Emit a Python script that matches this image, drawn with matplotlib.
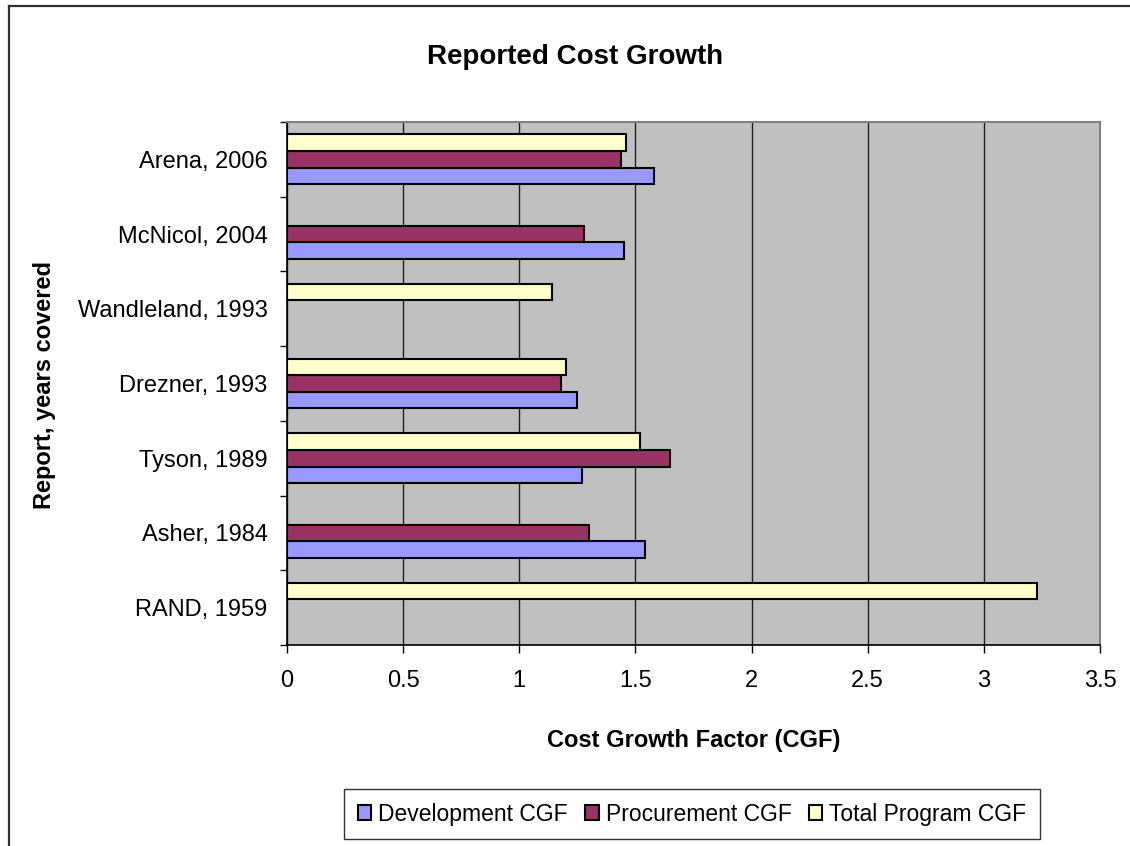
import numpy as np
import matplotlib.pyplot as plt
from matplotlib.lines import Line2D

plt.rcParams['font.family'] = ['Liberation Sans', 'DejaVu Sans']

# --- data (Cost Growth Factor)
reports = ['RAND, 1959', 'Asher, 1984', 'Tyson, 1989', 'Drezner, 1993',
           'Wandleland, 1993', 'McNicol, 2004', 'Arena, 2006']
dev_cgf = [np.nan, 1.54, 1.27, 1.25, np.nan, 1.45, 1.58]
proc_cgf = [np.nan, 1.30, 1.65, 1.18, np.nan, 1.28, 1.44]
total_cgf = [3.23, np.nan, 1.52, 1.20, 1.14, np.nan, 1.46]

series = [('Development CGF', dev_cgf, '#9999FF'),
          ('Procurement CGF', proc_cgf, '#993366'),
          ('Total Program CGF', total_cgf, '#FFFFCC')]

W, H = 1130, 846
fig = plt.figure(figsize=(W / 100, H / 100), dpi=100)
fig.patch.set_facecolor('white')

# plot area in pixels: x 287..1100, y 122..645
ax = fig.add_axes([287 / W, 1 - 645 / H, (1100 - 287) / W, (645 - 122) / H])
ax.set_facecolor('#C0C0C0')
ax.set_axisbelow(True)

pos = np.arange(len(reports))
bh = 0.222
handles = []
for k, (name, vals, col) in enumerate(series):
    vals = np.array(vals, dtype=float)
    ok = ~np.isnan(vals)
    b = ax.barh(pos[ok] + (k - 1) * bh, vals[ok], height=bh, color=col,
                edgecolor='black', linewidth=1.5, label=name)
    handles.append(b)

ax.set_xlim(0, 3.5)
ax.set_ylim(-0.5, len(reports) - 0.5)
ax.set_xticks(np.arange(0, 3.51, 0.5))
ax.set_xticklabels(['0', '0.5', '1', '1.5', '2', '2.5', '3', '3.5'])
ax.xaxis.grid(True, color='#202020', linewidth=1.0)

ax.set_yticks(pos)
ax.set_yticklabels(reports)
ax.set_yticks(np.arange(-0.5, len(reports), 1.0), minor=True)
ax.tick_params(axis='y', which='major', length=0, pad=14, labelsize=17)
ax.tick_params(axis='y', which='minor', length=5, width=1, direction='out')
ax.tick_params(axis='x', length=6, width=1, direction='out', pad=12, labelsize=17)

for s in ['left', 'bottom']:
    ax.spines[s].set_color('black')
    ax.spines[s].set_linewidth(1.2)
for s in ['top', 'right']:
    ax.spines[s].set_color('#808080')
    ax.spines[s].set_linewidth(1.5)

fig.text(575 / W, 1 - 57 / H, 'Reported Cost Growth', ha='center', va='center',
         fontsize=20, fontweight='bold')
fig.text(694 / W, 1 - 740 / H, 'Cost Growth Factor (CGF)', ha='center', va='center',
         fontsize=17, fontweight='bold')
fig.text(45 / W, 1 - 385 / H, 'Report, years covered', ha='center', va='center',
         rotation=90, fontsize=17, fontweight='bold')

leg = fig.legend(handles=handles, loc='center', bbox_to_anchor=(692 / W, 1 - 814 / H),
                 ncol=3, fontsize=16.5, frameon=True, fancybox=False,
                 handlelength=0.6, handleheight=0.6, handletextpad=0.3,
                 columnspacing=0.75, borderpad=0.6, borderaxespad=0)
leg.get_frame().set_edgecolor('black')
leg.get_frame().set_linewidth(1.0)

# outer chart frame (only the top and left edges are visible)
fig.add_artist(Line2D([8.5 / W, 8.5 / W], [0, 1 - 6.5 / H], transform=fig.transFigure,
                      color='#303030', linewidth=1.6))
fig.add_artist(Line2D([8.5 / W, 1], [1 - 6.5 / H, 1 - 6.5 / H], transform=fig.transFigure,
                      color='#303030', linewidth=1.6))

fig.savefig('out.png', dpi=100)
